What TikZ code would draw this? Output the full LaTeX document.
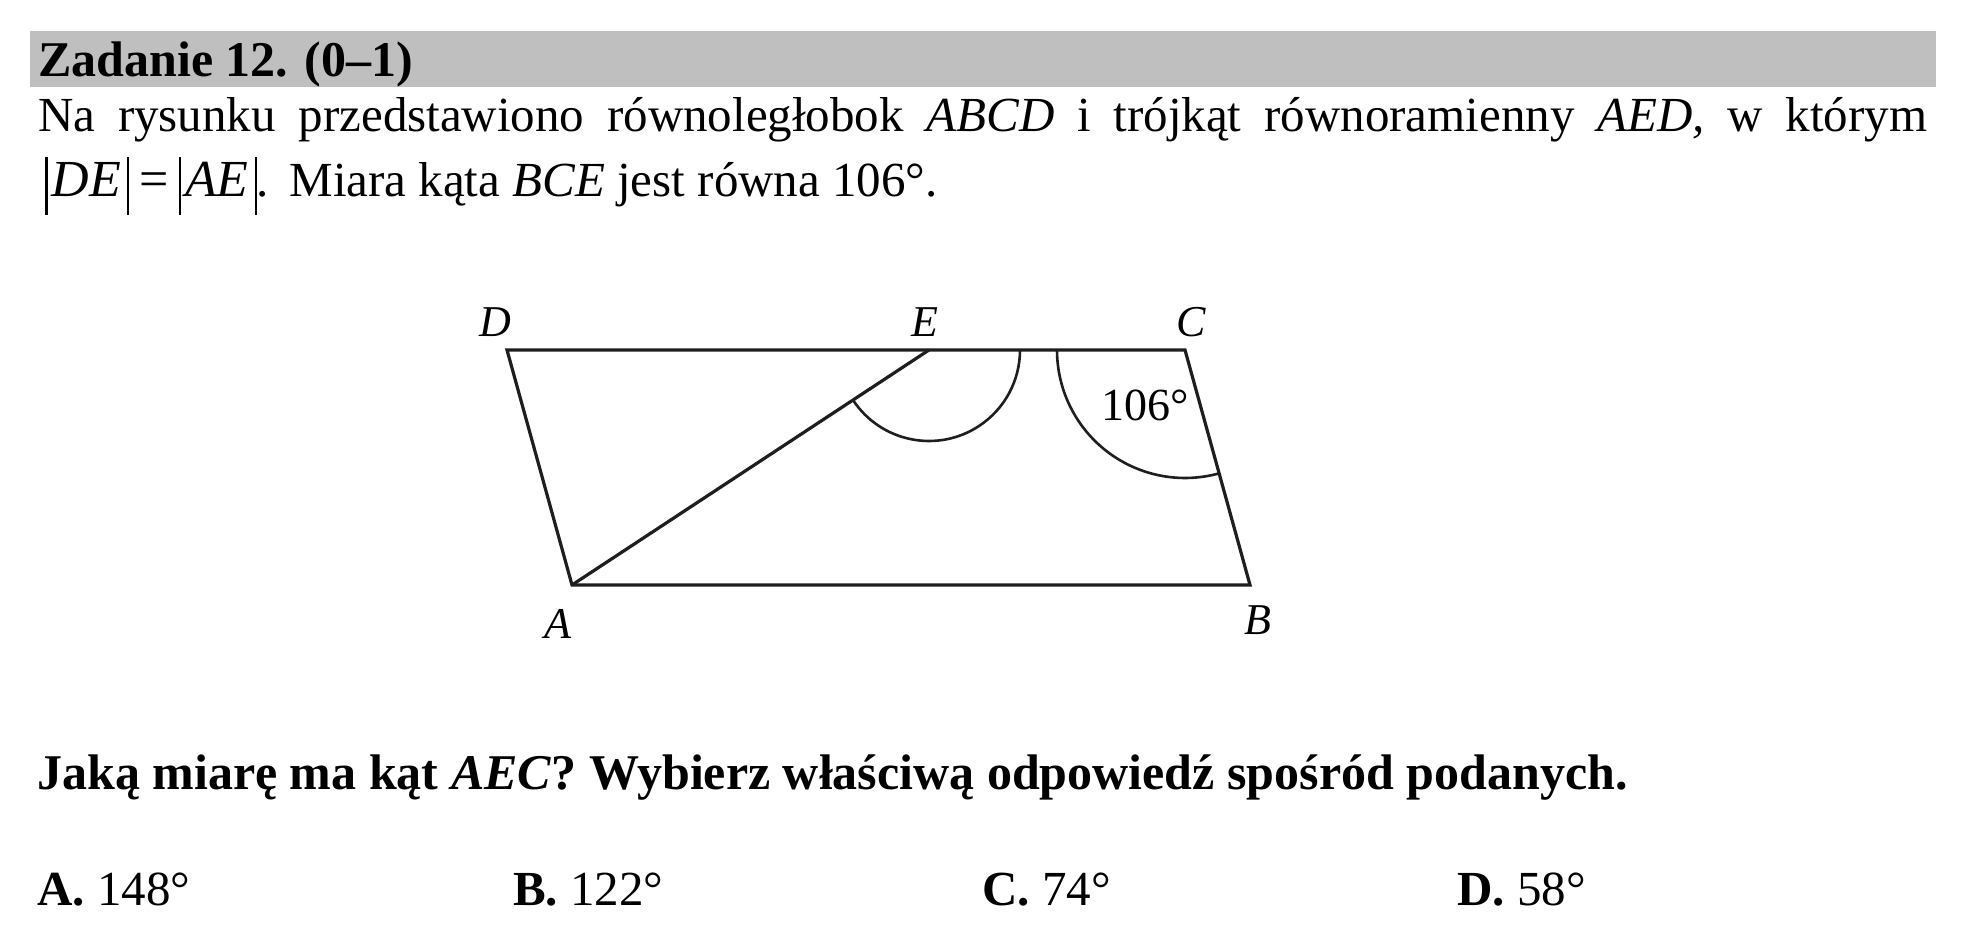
\documentclass[tikz,border=0pt]{standalone}
\usepackage{fontspec}
\setmainfont{Liberation Serif}
\definecolor{bargray}{RGB}{191,191,191}
\definecolor{ink}{RGB}{30,30,30}
\newcommand{\mybar}{\rule[-18pt]{2.4pt}{58pt}}
\begin{document}
\begin{tikzpicture}[x=1pt,y=1pt,
  fig/.style={draw=ink,line width=3.2pt,line join=miter},
  arcline/.style={draw=ink,line width=2.6pt},
  lab/.style={inner sep=0pt,font=\fontsize{44}{52}\selectfont\itshape},
  txt/.style={inner sep=0pt,anchor=base west,font=\fontsize{49}{58}\selectfont}]
\useasboundingbox (0,0) rectangle (1972,952);
\fill[white] (0,0) rectangle (1972,952);
\fill[bargray] (30,865) rectangle (1936,921);
\node[txt,anchor=base west] (title) at (38,875.3) {\fontsize{50}{60}\selectfont\bfseries Zadanie 12. (0–1)};
\node[txt] (l1) at (38,820.3) {\makebox[1889pt][s]{Na rysunku przedstawiono równoległobok \textit{ABCD} i trójkąt równoramienny \textit{AED,} w którym}};
\node[txt] (l2) at (45,755) {\mybar\kern4pt{\fontsize{52}{60}\selectfont\textit{DE}}\kern6pt\mybar\kern10pt{\fontsize{52}{60}\selectfont =}\kern10pt\mybar\kern4pt{\fontsize{52}{60}\selectfont\textit{AE}}\kern6pt\mybar.\kern8pt\ Miara kąta \textit{BCE} jest równa 106°.};
% figure
\coordinate (A) at (572,367);
\coordinate (B) at (1250,367);
\coordinate (C) at (1185,602);
\coordinate (D) at (507,602);
\coordinate (E) at (929,602);
\draw[fig] (A) -- (B) -- (C) -- (D) -- cycle;
\draw[fig] (A) -- (E);
\draw[arcline] (E) ++(213.4:91) arc[start angle=213.4,end angle=360,radius=91];
\draw[arcline] (C) ++(180:128) arc[start angle=180,end angle=285.5,radius=128];
\node[lab,anchor=base] (lD) at (495,615) {D};
\node[lab,anchor=base] (lE) at (925,615) {E};
\node[lab,anchor=base] (lC) at (1191,615) {C};
\node[lab,anchor=base] (lA) at (558,313) {A};
\node[lab,anchor=base] (lB) at (1258,317) {B};
\node[txt,anchor=base west,font=\fontsize{46}{54}\selectfont] (ang) at (1101,531) {106°};
% question
\node[txt,font=\fontsize{50}{60}\selectfont] (q) at (37,162) {\bfseries Jaką miarę ma kąt \textit{AEC}? Wybierz właściwą odpowiedź spośród podanych.};
\node[txt] (ansA) at (37,46) {\textbf{A.} 148°};
\node[txt] (ansB) at (513,46) {\textbf{B.} 122°};
\node[txt] (ansC) at (982,46) {\textbf{C.} 74°};
\node[txt] (ansD) at (1457,46) {\textbf{D.} 58°};
\end{tikzpicture}
\end{document}
